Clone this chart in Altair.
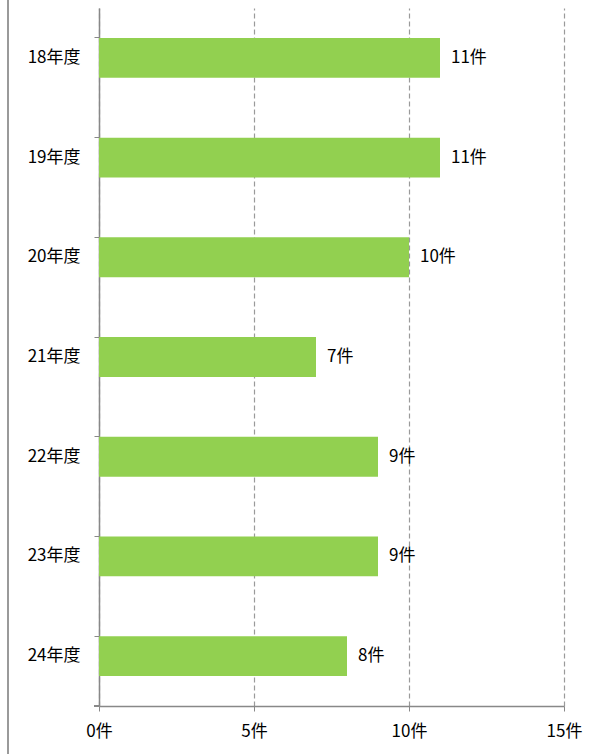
import altair as alt
import pandas as pd

years = ["18年度", "19年度", "20年度", "21年度", "22年度", "23年度", "24年度"]
counts = [11, 11, 10, 7, 9, 9, 8]
labels = [f"{c}件" for c in counts]
x_ticks = [0, 5, 10, 15]

df = pd.DataFrame({"year": years, "count": counts, "label": labels})

FONT = "Noto Sans CJK JP"
FS = 17

base = alt.Chart(df)

bars = base.mark_bar(color="#92D050").encode(
    x=alt.X(
        "count:Q",
        scale=alt.Scale(domain=[0, 15], nice=False),
        axis=alt.Axis(
            values=x_ticks,
            labelExpr="datum.value + '件'",
            title=None,
            grid=True,
            gridDash=[5, 3],
            gridColor="#9a9a9a",
            gridWidth=1.2,
            domainColor="#888888",
            domainWidth=1.5,
            tickColor="#888888",
            tickSize=5,
            labelFlush=False,
            labelPadding=12,
            labelFont=FONT,
            labelFontSize=FS,
            labelColor="#000000",
        ),
    ),
    y=alt.Y(
        "year:N",
        sort=years,
        scale=alt.Scale(paddingInner=0.6, paddingOuter=0.3),
        axis=alt.Axis(
            title=None,
            bandPosition=0,
            domainColor="#888888",
            domainWidth=1.5,
            tickColor="#888888",
            tickSize=5,
            labelPadding=14,
            labelFont=FONT,
            labelFontSize=FS,
            labelColor="#000000",
        ),
    ),
)

text = base.mark_text(align="left", dx=11, font=FONT, fontSize=FS, color="#000000").encode(
    x="count:Q",
    y=alt.Y("year:N", sort=years),
    text="label:N",
)

border = base.mark_rule(color="#9a9a9a", strokeWidth=1.5).encode(
    x=alt.value(-91), y=alt.value(-8), y2=alt.value(746)
)

bottom_tick = base.mark_rule(color="#888888", strokeWidth=1).encode(
    x=alt.value(-5), x2=alt.value(0), y=alt.value(698)
)

chart = (
    alt.layer(bars, text, border, bottom_tick)
    .properties(
        width=465,
        height=698,
        autosize=alt.AutoSizeParams(type="none"),
        padding={"left": 99, "top": 8, "right": 38, "bottom": 48},
    )
    .configure_view(stroke=None)
)

chart.save("out.html", embed_options={"renderer": "svg", "actions": False})
